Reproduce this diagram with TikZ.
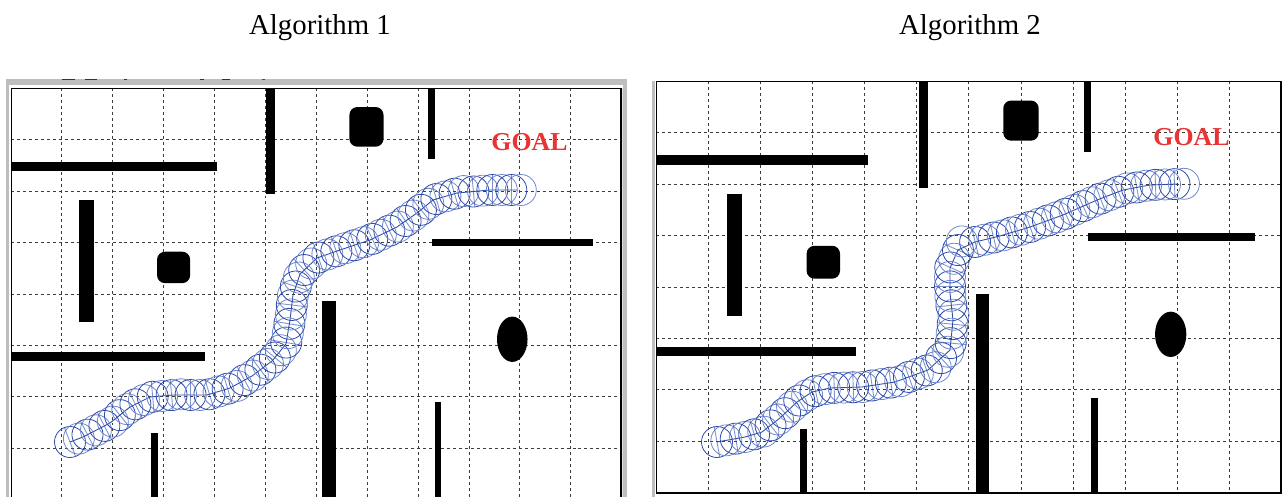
\documentclass[tikz,border=0pt]{standalone}
\usepackage{fontspec}
\setmainfont{Liberation Serif}
\usetikzlibrary{decorations.markings}
\definecolor{gridgray}{RGB}{60,60,60}
\definecolor{framegray}{RGB}{190,190,190}
\definecolor{robotblue}{RGB}{45,75,170}
\definecolor{robotlight}{RGB}{110,135,205}
\definecolor{goalred}{RGB}{232,52,52}
\tikzset{
  gridline/.style={draw=gridgray, line width=0.5pt, dash pattern=on 1.7pt off 1.7pt},
  panelframe/.style={draw=black, line width=1.4pt},
  obst/.style={fill=black},
  roundobst/.style={fill=black, rounded corners=4.5pt},
  title/.style={font=\fontsize{16.4}{19}\selectfont, anchor=base},
  goal/.style={font=\bfseries\fontsize{14.7}{17}\selectfont, text=goalred, anchor=base},
  circdark/.style={draw=robotblue, line width=0.45pt},
  circlight/.style={draw=robotlight, line width=0.45pt},
  trackline/.style={draw=robotblue, line width=0.5pt},
  robotpath/.style={trackline, postaction={decorate, decoration={markings,
     mark=between positions 0 and 0.999 step 0.38cm with {%
        \draw[circdark] (0,0) circle (0.31cm);
        \draw[circlight] (0.19cm,0) circle (0.31cm);
        \draw[trackline, opacity=0.6] (0,-0.31cm) -- (0,0.31cm);}
  }}}
}
\begin{document}
\begin{tikzpicture}[x=0.02cm,y=-0.02cm]
\useasboundingbox (0,0) rectangle (1282,497);

% titles
\node[title] (t1) at (320,34) {Algorithm 1};
\node[title] (t2) at (970,34) {Algorithm 2};

% ---------- left panel window frame ----------
\fill[framegray] (6,79) rectangle (627,85);
\fill[framegray] (6,79) rectangle (9,497);
\fill[framegray] (623,79) rectangle (627,497);
\foreach \a/\b in {62/75, 85/97, 124/127, 200/204, 222/230}
  \fill[black!80] (\a,78.5) rectangle (\b,80);
\fill[robotblue] (262,78.5) rectangle (265,80);

\begin{scope}
\clip (11,88) rectangle (622,497);
\begin{scope}[shift={(0.22cm,-1.76cm)}, x=1.018cm, y=-1.03cm]
  \foreach \i in {1,...,11} \draw[gridline] (\i,0) -- (\i,8);
  \foreach \j in {1,...,7} \draw[gridline] (0,\j) -- (12,\j);
  \fill[obst] (0,1.43) rectangle (4.05,1.61);
  \fill[obst] (5.02,0) rectangle (5.19,2.06);
  \fill[obst] (1.34,2.17) rectangle (1.64,4.54);
  \fill[roundobst] (2.87,3.18) rectangle (3.52,3.79);
  \fill[roundobst] (6.65,0.37) rectangle (7.32,1.14);
  \fill[obst] (8.19,0) rectangle (8.33,1.37);
  \fill[obst] (8.28,2.93) rectangle (11.44,3.07);
  \fill[obst] (0,5.12) rectangle (3.81,5.30);
  \fill[obst] (2.75,6.71) rectangle (2.88,8);
  \fill[obst] (6.12,4.13) rectangle (6.38,8);
  \fill[obst] (9.85,4.88) ellipse [x radius=0.30, y radius=0.44];
  \fill[obst] (8.33,6.10) rectangle (8.45,8);
  \draw[panelframe] (0,0) rectangle (12,8);
\end{scope}
\end{scope}
\node[goal] (g1) at (529.5,150) {GOAL};
\draw[robotpath] (70,442) -- (83,437) -- (110,423) -- (130,407) -- (150,397) -- (173,395) -- (207,395) -- (230,388)
 -- (252,376) -- (272,361) -- (286,344) -- (290,320) -- (293,295) -- (300,274) -- (317,258) -- (340,250)
 -- (370,240) -- (397,227) -- (417,213) -- (433,200) -- (457,193) -- (490,190) -- (518,190);

% ---------- right panel ----------
\fill[framegray] (652,81) rectangle (655,497);
\begin{scope}
\clip (656,81) rectangle (1282,497);
\begin{scope}[shift={(13.12cm,-1.62cm)}, x=1.0434cm, y=-1.03cm]
  \foreach \i in {1,...,11} \draw[gridline] (\i,0) -- (\i,8);
  \foreach \j in {1,...,7} \draw[gridline] (0,\j) -- (12,\j);
  \fill[obst] (0,1.44) rectangle (4.07,1.64);
  \fill[obst] (5.05,0) rectangle (5.22,2.08);
  \fill[obst] (1.36,2.2) rectangle (1.65,4.56);
  \fill[roundobst] (2.89,3.2) rectangle (3.53,3.84);
  \fill[roundobst] (6.66,0.38) rectangle (7.34,1.16);
  \fill[obst] (8.2,0) rectangle (8.35,1.37);
  \fill[obst] (8.29,2.95) rectangle (11.49,3.10);
  \fill[obst] (0,5.16) rectangle (3.83,5.34);
  \fill[obst] (2.77,6.76) rectangle (2.90,8);
  \fill[obst] (6.13,4.14) rectangle (6.39,8);
  \fill[obst] (9.87,4.92) ellipse [x radius=0.30, y radius=0.44];
  \fill[obst] (8.34,6.15) rectangle (8.47,8);
  \draw[panelframe] (0,0) rectangle (11.98,8);
\end{scope}
\end{scope}
\node[goal] (g2) at (1191.5,145) {GOAL};
\draw[robotpath] (717,442) -- (745,437) -- (762,432) -- (780,418) -- (797,402) -- (812,392) -- (830,388) -- (862,387)
 -- (895,382) -- (928,370) -- (950,350) -- (953,320) -- (950,293) -- (950,268) -- (958,250) -- (975,242)
 -- (1000,236) -- (1030,227) -- (1063,215) -- (1097,200) -- (1123,190) -- (1150,185) -- (1178,184);
\end{tikzpicture}
\end{document}
